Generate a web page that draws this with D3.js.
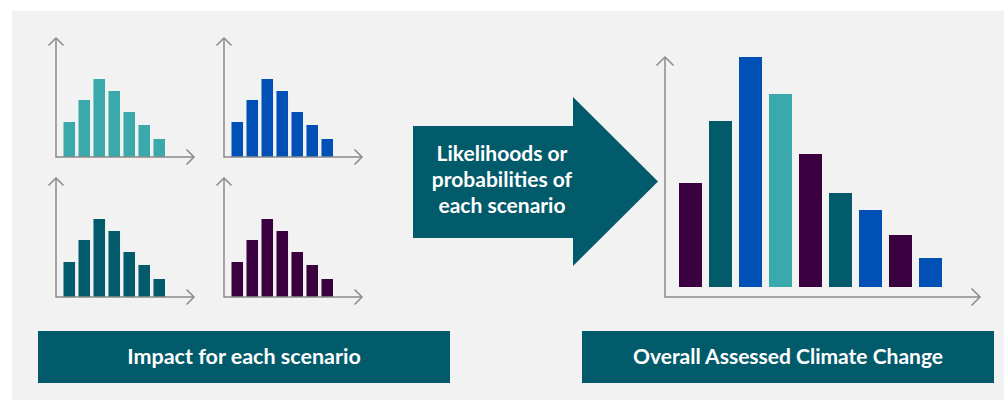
<!DOCTYPE html>
<html>
<head>
<meta charset="utf-8">
<script src="https://cdn.jsdelivr.net/npm/d3@7"></script>
<style>
  html, body { margin: 0; padding: 0; background: #ffffff; }
  svg { display: block; }
  text { font-family: Lato, "Open Sans", sans-serif; font-weight: 700; fill: #ffffff; }
</style>
</head>
<body>
<svg id="chart" width="1004" height="400"></svg>
<script>
// Impact distribution for each of the four scenarios (same shape, one colour each)
const scenarioBins = [1, 2, 3, 4, 5, 6, 7];
const scenarioImpact = [35, 57, 78, 66, 45, 32, 18];
const scenarioColors = ["#39a9ac", "#0050b5", "#025b6b", "#3a0040"];

// Combined, probability-weighted distribution
const overallBins = [1, 2, 3, 4, 5, 6, 7, 8, 9];
const overallValues = [104, 166, 230, 193, 133, 94, 77, 52, 29];
const overallColors = ["#3a0040", "#025b6b", "#0050b5", "#39a9ac", "#3a0040", "#025b6b", "#0050b5", "#3a0040", "#0050b5"];

// Labels
const arrowLines = ["Likelihoods or", "probabilities of", "each scenario"];
const leftLabel = "Impact for each scenario";
const rightLabel = "Overall Assessed Climate Change";

const svg = d3.select("#chart");
const axisColor = "#8a8a8a";
const boxColor = "#025b6b";

// Panel background
svg.append("rect")
  .attr("x", 12).attr("y", 11)
  .attr("width", 992).attr("height", 389)
  .attr("fill", "#f2f2f2");

// Axis pair with open chevron arrowheads
function drawAxes(g, x0, y0, x1, y1, head) {
  g.append("path")
    .attr("d", `M${x0},${y1}V${y0}H${x1}`)
    .attr("fill", "none").attr("stroke", axisColor).attr("stroke-width", 1.5);
  g.append("path")
    .attr("d", `M${x0 - head},${y1 + head}L${x0},${y1}L${x0 + head},${y1 + head}`)
    .attr("fill", "none").attr("stroke", axisColor).attr("stroke-width", 1.5);
  g.append("path")
    .attr("d", `M${x1 - head},${y0 - head}L${x1},${y0}L${x1 - head},${y0 + head}`)
    .attr("fill", "none").attr("stroke", axisColor).attr("stroke-width", 1.5);
}

// Four small scenario histograms
const smallOrigins = [[56, 157], [224, 157], [56, 297], [224, 297]];
smallOrigins.forEach(([ox, oy], i) => {
  const g = svg.append("g");
  const x = d3.scaleBand()
    .domain(scenarioBins)
    .range([ox + 7.5, ox + 109])
    .paddingInner(0.23)
    .paddingOuter(0);
  const y = d3.scaleLinear().domain([0, 119]).range([oy, oy - 119]);
  g.selectAll("rect")
    .data(scenarioImpact)
    .join("rect")
    .attr("x", (d, j) => x(scenarioBins[j]))
    .attr("width", x.bandwidth())
    .attr("y", d => y(d))
    .attr("height", d => y(0) - y(d))
    .attr("fill", scenarioColors[i]);
  drawAxes(g, ox, oy, ox + 138, oy - 119, 7.5);
});

// Arrow carrying the weighting text
const arrowPts = [[413, 126], [573, 126], [573, 97], [658, 181.5], [573, 266], [573, 238], [413, 238]];
svg.append("path")
  .attr("d", d3.line()(arrowPts) + "Z")
  .attr("fill", boxColor);
svg.append("g").selectAll("text")
  .data(arrowLines)
  .join("text")
  .attr("x", 502)
  .attr("y", (d, i) => 161 + i * 26)
  .attr("text-anchor", "middle")
  .attr("font-size", 21)
  .text(d => d);

// Overall distribution
const big = svg.append("g");
const bx = d3.scaleBand()
  .domain(overallBins)
  .range([679, 942])
  .paddingInner(0.233)
  .paddingOuter(0);
const by = d3.scaleLinear().domain([0, 230]).range([287, 57]);
big.selectAll("rect")
  .data(overallValues)
  .join("rect")
  .attr("x", (d, i) => bx(overallBins[i]))
  .attr("width", bx.bandwidth())
  .attr("y", d => by(d))
  .attr("height", d => by(0) - by(d))
  .attr("fill", (d, i) => overallColors[i]);
drawAxes(big, 665, 297, 980, 57, 8.5);

// Caption boxes
[[38, 412, leftLabel, 21.5], [582, 412, rightLabel, 21]].forEach(([bxPos, w, label, fs]) => {
  svg.append("rect")
    .attr("x", bxPos).attr("y", 331)
    .attr("width", w).attr("height", 52)
    .attr("fill", boxColor);
  svg.append("text")
    .attr("x", bxPos + w / 2)
    .attr("y", 364)
    .attr("text-anchor", "middle")
    .attr("font-size", fs)
    .text(label);
});
</script>
</body>
</html>
